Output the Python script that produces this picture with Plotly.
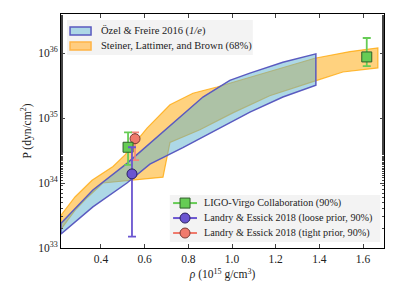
import plotly.graph_objects as go

# Özel & Freire 2016 band (1/e)
oz_x = [0.217, 0.363, 0.519, 0.624, 0.748, 0.867, 0.990, 1.082, 1.233, 1.384]
oz_up = [2.4e33, 7.8e33, 2.0e34, 4.1e34, 9.3e34, 2.1e35, 3.8e35, 4.9e35, 7.2e35, 9.7e35]
oz_lo_x = [0.217, 0.363, 0.519, 0.624, 0.775, 0.945, 1.082, 1.233, 1.384]
oz_lo = [1.64e33, 4.3e33, 1.0e34, 1.95e34, 3.5e34, 7.0e34, 1.23e35, 2.1e35, 3.2e35]

# Steiner, Lattimer & Brown band (68%)
sl_up_x = [0.217, 0.281, 0.359, 0.455, 0.510, 0.611, 0.716, 0.821, 0.931, 1.082, 1.379, 1.540, 1.668]
sl_up = [3.2e33, 6.1e33, 1.1e34, 1.8e34, 2.7e34, 7.0e34, 1.6e35, 2.4e35, 3.0e35, 4.2e35, 8.3e35, 1.05e36, 1.2e36]
sl_lo_x = [0.217, 0.281, 0.340, 0.409, 0.684, 0.716, 0.853, 1.004, 1.173, 1.389, 1.508, 1.668]
sl_lo = [1.95e33, 3.8e33, 6.1e33, 1.0e34, 1.23e34, 4.2e34, 6.6e34, 1.2e35, 2.2e35, 3.8e35, 5.1e35, 5.9e35]

# Point estimates with 90% intervals
ligo_x = [0.524, 1.617]
ligo_y = [3.55e34, 8.7e35]
ligo_hi = [6.0e34, 1.7e36]
ligo_lo = [1.9e34, 6.3e35]

le_loose_x = [0.542]
le_loose_y = [1.38e34]
le_loose_hi = [3.55e34]
le_loose_lo = [1.5e33]

le_tight_x = [0.556]
le_tight_y = [4.8e34]
le_tight_hi = [6.0e34]
le_tight_lo = [2.25e34]

y_tickvals = [1e33, 1e34, 1e35, 1e36]
y_ticktext = ["10<sup>33</sup>", "10<sup>34</sup>", "10<sup>35</sup>", "10<sup>36</sup>"]
x_tickvals = [0.4, 0.6, 0.8, 1.0, 1.2, 1.4, 1.6]
x_ticktext = ["0.4", "0.6", "0.8", "1.0", "1.2", "1.4", "1.6"]

band_names = ["Özel & Freire 2016 (<i>1/e</i>)", "Steiner, Lattimer, and Brown (68%)"]
point_names = ["LIGO-Virgo Collaboration (90%)",
               "Landry & Essick 2018 (loose prior, 90%)",
               "Landry & Essick 2018 (tight prior, 90%)"]

FONT = "Liberation Serif, Times New Roman, serif"

OZ_FILL = "rgba(91,177,205,0.5)"
OZ_LINE = "#5a5ac0"
SL_FILL = "rgba(255,165,0,0.5)"
SL_LINE = "rgba(255,165,0,0.75)"
G_COL, G_EDGE = "#66cc55", "#2f5f2a"
B_COL, B_EDGE = "#6a55d0", "#2a2060"
R_COL, R_EDGE = "#f07a6c", "#7a3a33"

fig = go.Figure()

fig.add_trace(go.Scatter(
    x=sl_up_x + sl_lo_x[::-1] + [sl_up_x[0]],
    y=sl_up + sl_lo[::-1] + [sl_up[0]],
    fill="toself", mode="lines", fillcolor=SL_FILL,
    line=dict(color=SL_LINE, width=1.2), showlegend=False, hoverinfo="skip",
))
fig.add_trace(go.Scatter(
    x=oz_x + oz_lo_x[::-1] + [oz_x[0]],
    y=oz_up + oz_lo[::-1] + [oz_up[0]],
    fill="toself", mode="lines", fillcolor=OZ_FILL,
    line=dict(color=OZ_LINE, width=1.5), showlegend=False, hoverinfo="skip",
))

def err(y, hi, lo):
    return [h - v for h, v in zip(hi, y)], [v - l for v, l in zip(y, lo)]

gp, gm = err(ligo_y, ligo_hi, ligo_lo)
bp, bm = err(le_loose_y, le_loose_hi, le_loose_lo)
rp, rm = err(le_tight_y, le_tight_hi, le_tight_lo)

fig.add_trace(go.Scatter(
    x=le_tight_x, y=le_tight_y, mode="markers",
    error_y=dict(type="data", array=rp, arrayminus=rm, color="#f4877a", thickness=1.6, width=4),
    marker=dict(symbol="circle", size=10, color=R_COL, line=dict(color=R_EDGE, width=1)),
    name=point_names[2], showlegend=False,
))
fig.add_trace(go.Scatter(
    x=ligo_x, y=ligo_y, mode="markers",
    error_y=dict(type="data", array=gp, arrayminus=gm, color=G_COL, thickness=1.8, width=4),
    marker=dict(symbol="square", size=10, color=G_COL, line=dict(color=G_EDGE, width=1)),
    name=point_names[0], showlegend=False,
))
fig.add_trace(go.Scatter(
    x=le_loose_x, y=le_loose_y, mode="markers",
    error_y=dict(type="data", array=bp, arrayminus=bm, color=B_COL, thickness=1.8, width=4),
    marker=dict(symbol="circle", size=10, color=B_COL, line=dict(color=B_EDGE, width=1)),
    name=point_names[1], showlegend=False,
))

# Manual legends (paper coordinates)
LEG_BG = "rgba(242,242,242,0.92)"
shapes = [
    dict(type="rect", xref="paper", yref="paper", x0=0.0186, x1=0.594, y0=0.825, y1=0.974,
         fillcolor=LEG_BG, line=dict(width=0), layer="above"),
    dict(type="rect", xref="paper", yref="paper", x0=0.028, x1=0.093, y0=0.910, y1=0.944,
         fillcolor="rgb(173,216,230)", line=dict(color=OZ_LINE, width=1.5), layer="above"),
    dict(type="rect", xref="paper", yref="paper", x0=0.028, x1=0.093, y0=0.846, y1=0.880,
         fillcolor="rgb(255,205,128)", line=dict(color="rgb(255,180,70)", width=1.5), layer="above"),
    dict(type="rect", xref="paper", yref="paper", x0=0.337, x1=0.988, y0=0.026, y1=0.226,
         fillcolor=LEG_BG, line=dict(width=0), layer="above"),
]
annotations = [
    dict(xref="paper", yref="paper", x=0.118, y=0.927, xanchor="left", yanchor="middle",
         text=band_names[0], showarrow=False, font=dict(family=FONT, size=10.5, color="#222")),
    dict(xref="paper", yref="paper", x=0.118, y=0.863, xanchor="left", yanchor="middle",
         text=band_names[1], showarrow=False, font=dict(family=FONT, size=10.5, color="#222")),
]
rows_y = [0.192, 0.128, 0.064]
row_style = [(G_COL, G_EDGE, "rect"), (B_COL, B_EDGE, "circle"), (R_COL, R_EDGE, "circle")]
for ry, name, (col, edge, kind) in zip(rows_y, point_names, row_style):
    shapes.append(dict(type="line", xref="paper", yref="paper", x0=0.347, x1=0.421, y0=ry, y1=ry,
                       line=dict(color=col, width=2), layer="above"))
    shapes.append(dict(type=kind, xref="paper", yref="paper", xsizemode="pixel", ysizemode="pixel",
                       xanchor=0.384, yanchor=ry, x0=-5, x1=5, y0=-5, y1=5,
                       fillcolor=col, line=dict(color=edge, width=1), layer="above"))
    annotations.append(dict(xref="paper", yref="paper", x=0.437, y=ry, xanchor="left", yanchor="middle",
                            text=name, showarrow=False, font=dict(family=FONT, size=10.2, color="#222")))

fig.update_layout(
    width=399, height=299,
    margin=dict(l=61, r=15, t=14, b=51),
    paper_bgcolor="white", plot_bgcolor="white",
    font=dict(family=FONT, size=11, color="#222"),
    shapes=shapes, annotations=annotations, showlegend=False,
)

fig.update_xaxes(
    range=[0.217, 1.696], tickvals=x_tickvals, ticktext=x_ticktext,
    ticks="inside", ticklen=4, mirror="ticks", showline=True, linecolor="black", linewidth=1,
    showgrid=False, zeroline=False, tickfont=dict(family=FONT, size=11.5),
    title=dict(text="<i>ρ</i> (10<sup>15</sup> g/cm<sup>3</sup>)", font=dict(family=FONT, size=11.5), standoff=6),
)
fig.update_yaxes(
    type="log", range=[33, 36.6], tickvals=y_tickvals, ticktext=y_ticktext,
    ticks="inside", ticklen=4, mirror="ticks", showline=True, linecolor="black", linewidth=1,
    showgrid=False, zeroline=False, tickfont=dict(family=FONT, size=11.5),
    minor=dict(ticks="inside", ticklen=2, showgrid=False),
    title=dict(text="P (dyn/cm<sup>2</sup>)", font=dict(family=FONT, size=11.5), standoff=4),
)

fig.write_html("out.html", config={"displayModeBar": False},
               post_script="document.body.style.margin='0';")
